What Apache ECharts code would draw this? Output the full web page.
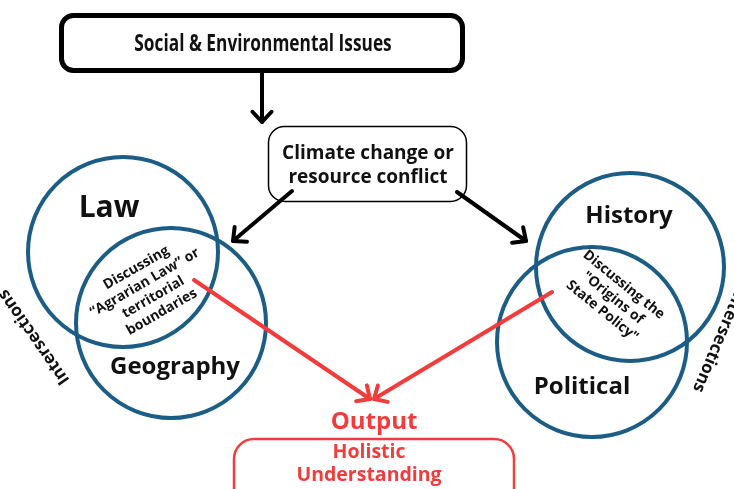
<!DOCTYPE html>
<html>
<head>
<meta charset="utf-8">
<script src="https://cdn.jsdelivr.net/npm/echarts@6/dist/echarts.min.js"></script>
<style>
  html, body { margin: 0; padding: 0; background: #fff; }
  #main { width: 734px; height: 489px; }
</style>
</head>
<body>
<div id="main"></div>
<script>
// 文字内容
var topTitle = 'Social & Environmental Issues';
var causeLines = ['Climate change or', 'resource conflict'];
var leftSets = ['Law', 'Geography'];
var leftOverlap = ['Discussing', '\u201CAgrarian Law\u201D or', 'territorial', 'boundaries'];
var rightSets = ['History', 'Political'];
var rightOverlap = ['Discussing the', '"Origins of', 'State Policy"'];
var sideLabel = 'Intersections';
var outputTitle = 'Output';
var outputLines = ['Holistic', 'Understanding'];

var chart = echarts.init(document.getElementById('main'));

var FONT = '"Open Sans", "Noto Sans", sans-serif';
var BLUE = '#1c5d85';
var RED = '#f23c3c';

function txt(s, x, y, size, color, rot, lh, sx) {
  return {
    type: 'text', x: x, y: y, rotation: (rot || 0) * Math.PI / 180,
    scaleX: sx || 1, z: 10,
    style: {
      text: s, fill: color || '#111', fontFamily: FONT, fontWeight: 'bold',
      fontSize: size, lineHeight: lh || size * 1.2,
      align: 'center', verticalAlign: 'middle'
    }
  };
}

function circle(cx, cy, r) {
  return {
    type: 'circle', shape: { cx: cx, cy: cy, r: r },
    style: { fill: 'none', stroke: BLUE, lineWidth: 4 }
  };
}

// 箭头: 线段 + 开口箭头
function arrow(x1, y1, x2, y2, color, w) {
  var a = Math.atan2(y2 - y1, x2 - x1);
  var L = 14, spread = 0.75;
  var p1 = [x2 - L * Math.cos(a - spread), y2 - L * Math.sin(a - spread)];
  var p2 = [x2 - L * Math.cos(a + spread), y2 - L * Math.sin(a + spread)];
  return [
    { type: 'line', z: 5, shape: { x1: x1, y1: y1, x2: x2, y2: y2 },
      style: { stroke: color, lineWidth: w, lineCap: 'round' } },
    { type: 'polyline', z: 5, shape: { points: [p1, [x2, y2], p2] },
      style: { stroke: color, lineWidth: w, fill: 'none', lineCap: 'round', lineJoin: 'round' } }
  ];
}

var els = [];

// 顶部标题框
els.push({ type: 'rect', shape: { x: 61.5, y: 15.5, width: 401, height: 55, r: 12 },
  style: { fill: '#fff', stroke: '#000', lineWidth: 5 } });
els.push(txt(topTitle, 263, 44, 24, '#111', 0, 28, 0.72));

// 原因框
els.push({ type: 'rect', shape: { x: 268.5, y: 126.5, width: 198, height: 75, r: 16 },
  style: { fill: '#fff', stroke: '#000', lineWidth: 1.5 } });
els.push(txt(causeLines.join('\n'), 368, 166, 19, '#111', 0, 24));

// 维恩圆
els.push(circle(123, 252, 95));
els.push(circle(171, 323, 95));
els.push(circle(630, 267, 94));
els.push(circle(592, 342, 95));

els.push(txt(leftSets[0], 109, 208, 30, '#111'));
els.push(txt(leftSets[1], 175, 367, 24, '#111'));
els.push(txt(rightSets[0], 629, 216, 24, '#111'));
els.push(txt(rightSets[1], 582, 387, 24, '#111'));

els.push(txt(leftOverlap.join('\n'), 149, 290, 14, '#111', 30, 17));
els.push(txt(rightOverlap.join('\n'), 613, 298, 14, '#111', -39, 17));

els.push(txt(sideLabel, 34, 337, 17, '#111', 125));
els.push(txt(sideLabel, 719, 340, 17, '#111', -113));

// 箭头
els = els.concat(arrow(262, 73, 262, 122, '#000', 4));
els = els.concat(arrow(292, 191, 233, 241, '#000', 4));
els = els.concat(arrow(457, 192, 526, 241, '#000', 4));
els = els.concat(arrow(194, 280, 370, 399, RED, 4));
els = els.concat(arrow(552, 292, 374, 399, RED, 4));

// 输出
els.push(txt(outputTitle, 374, 422, 24, RED));
els.push({ type: 'rect', shape: { x: 234, y: 439, width: 280, height: 70, r: 20 },
  style: { fill: 'none', stroke: RED, lineWidth: 2.5 } });
els.push(txt(outputLines.join('\n'), 369, 464, 19.5, RED, 0, 23));

chart.setOption({
  backgroundColor: '#fff',
  graphic: { elements: els }
});
</script>
</body>
</html>
